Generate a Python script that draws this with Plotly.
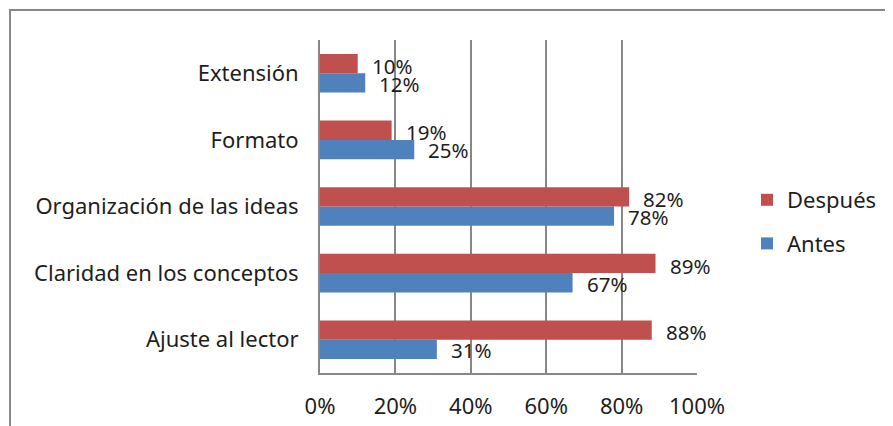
import plotly.graph_objects as go

categories = ["Ajuste al lector", "Claridad en los conceptos", "Organización de las ideas", "Formato", "Extensión"]
antes = [0.31, 0.67, 0.78, 0.25, 0.12]
despues = [0.88, 0.89, 0.82, 0.19, 0.10]
tick_vals = [0, 0.2, 0.4, 0.6, 0.8, 1.0]
tick_text = ["0%", "20%", "40%", "60%", "80%", "100%"]

BLUE = "#4F81BD"
RED = "#C0504D"
GRID = "#878787"
TXT = "#1e1e1e"
FONT = "Noto Sans"

# page body has an 8px default margin; compensate
OFF = 8
W, H = 893 - OFF, 426 - OFF
ML, MR, MT, MB = 320 - OFF, 196, 40 - OFF, 53
PW, PH = W - ML - MR, H - MT - MB

fig = go.Figure()
fig.add_trace(go.Bar(y=categories, x=antes, name="Antes", orientation="h",
                     marker=dict(color=BLUE, line=dict(width=0)), legendgroup="a", legendrank=2))
fig.add_trace(go.Bar(y=categories, x=despues, name="Después", orientation="h",
                     marker=dict(color=RED, line=dict(width=0)), legendgroup="d", legendrank=1))

annotations = []
for cat, a, d in zip(categories, antes, despues):
    annotations.append(dict(x=a, y=cat, xref="x", yref="y", text=f"{round(a*100)}%",
                            showarrow=False, xanchor="left", yanchor="middle",
                            xshift=12, yshift=-10.5, font=dict(family=FONT, size=20.5, color=TXT)))
    annotations.append(dict(x=d, y=cat, xref="x", yref="y", text=f"{round(d*100)}%",
                            showarrow=False, xanchor="left", yanchor="middle",
                            xshift=12, yshift=7.5, font=dict(family=FONT, size=20.5, color=TXT)))

def px_to_paper_x(px):
    return (px - OFF - ML) / PW

def px_to_paper_y(py):
    return (H - MB - (py - OFF)) / PH

shapes = [
    dict(type="line", xref="paper", yref="paper",
         x0=px_to_paper_x(10), x1=px_to_paper_x(10), y0=px_to_paper_y(9), y1=px_to_paper_y(440),
         line=dict(color=GRID, width=2)),
    dict(type="line", xref="paper", yref="paper",
         x0=px_to_paper_x(9), x1=px_to_paper_x(900), y0=px_to_paper_y(10), y1=px_to_paper_y(10),
         line=dict(color=GRID, width=2)),
]

fig.update_layout(
    width=W, height=H,
    margin=dict(l=ML, r=MR, t=MT, b=MB, pad=0, autoexpand=False),
    barmode="group", bargap=0.42, bargroupgap=0,
    plot_bgcolor="white", paper_bgcolor="white",
    font=dict(family=FONT, size=22, color=TXT),
    showlegend=True,
    legend=dict(x=px_to_paper_x(747), xanchor="left", xref="paper",
                y=px_to_paper_y(222), yanchor="middle",
                traceorder="grouped", tracegroupgap=12,
                font=dict(family=FONT, size=22, color=TXT), itemwidth=30,
                bgcolor="rgba(0,0,0,0)"),
    annotations=annotations,
    shapes=shapes,
)
fig.update_xaxes(range=[0, 1], tickvals=tick_vals, ticktext=tick_text,
                 showgrid=True, gridcolor=GRID, gridwidth=2,
                 showline=True, linecolor=GRID, linewidth=2, mirror=False,
                 zeroline=False, ticks="", ticklabelstandoff=13, automargin=False,
                 tickfont=dict(family=FONT, size=22, color=TXT), fixedrange=True)
fig.update_yaxes(showgrid=False, showline=True, linecolor=GRID, linewidth=2,
                 ticks="", ticklabelstandoff=15, automargin=False,
                 tickfont=dict(family=FONT, size=22, color=TXT), fixedrange=True)

fig.write_html("out.html")
